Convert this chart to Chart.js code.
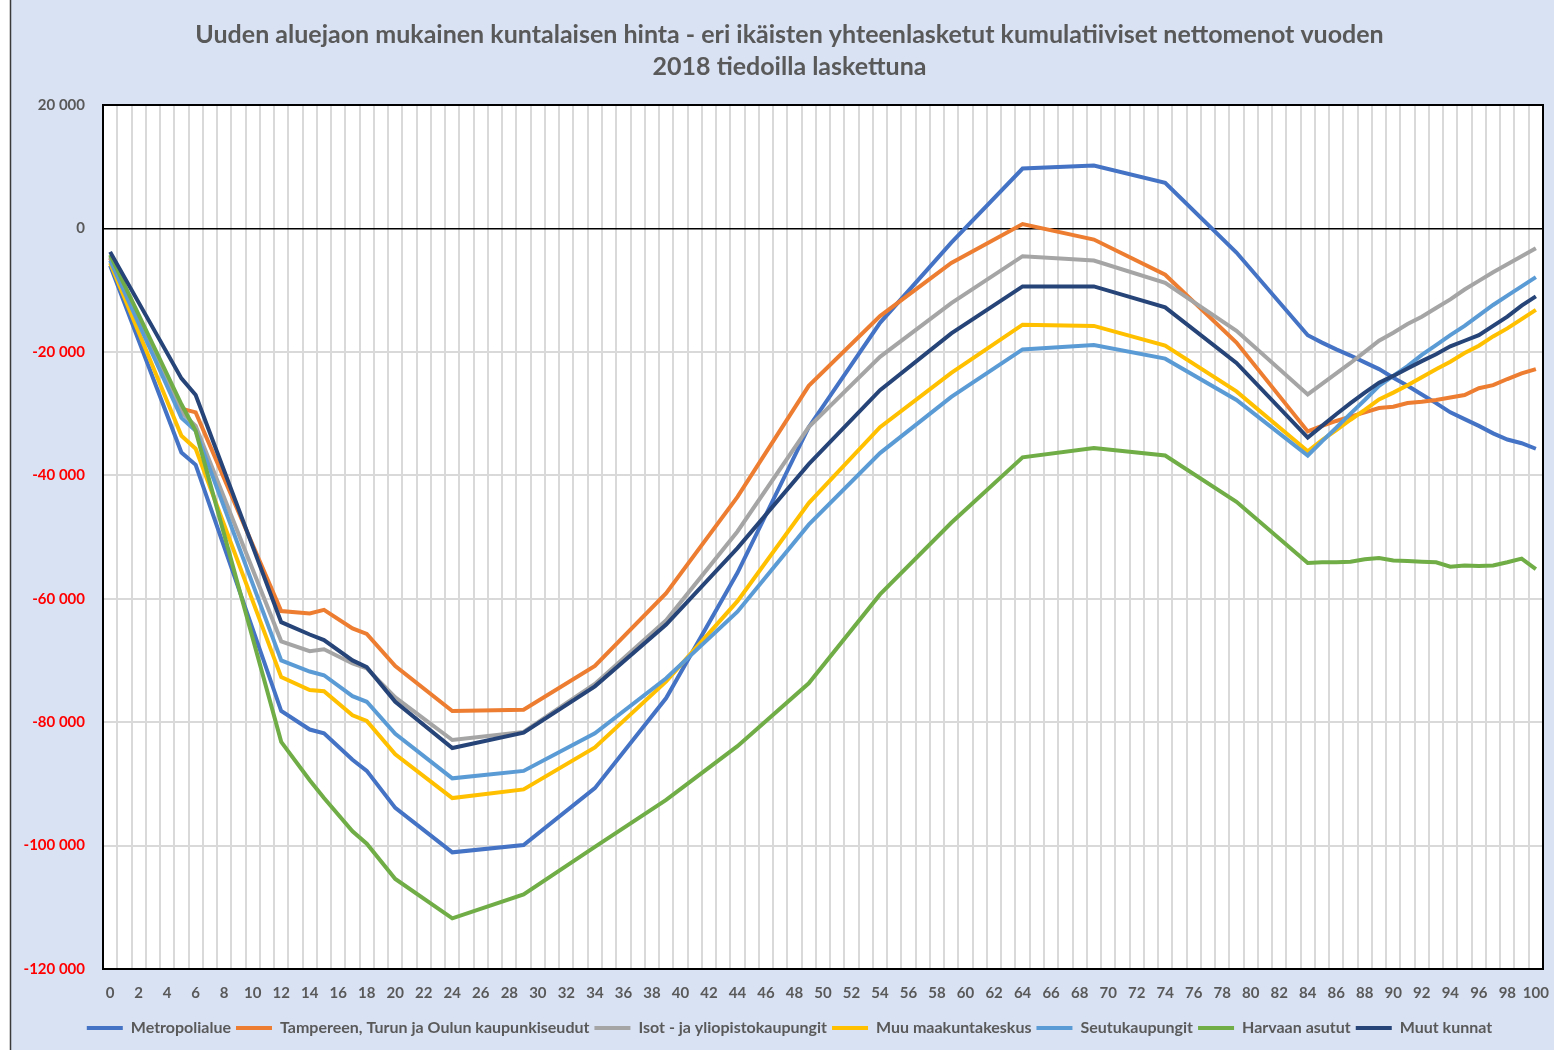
<!DOCTYPE html>
<html>
<head>
<meta charset="utf-8">
<script src="https://cdn.jsdelivr.net/npm/chart.js@4"></script>
<style>
  body { margin: 0; background: #fff; }
  #wrap { width: 1554px; height: 1050px; }
</style>
</head>
<body>
<div id="wrap"><canvas id="myChart"></canvas></div>
<script>
// ages on the x axis, 0..100
var ages = [];
for (var a = 0; a <= 100; a++) ages.push(a);

// ages where the lines have a point
var pointAges = [0, 5, 6, 12, 14, 15, 17, 18, 20, 24, 29, 34, 39, 44, 49, 54, 59, 64, 69, 74, 79,
  84, 85, 86, 87, 88, 89, 90, 91, 92, 93, 94, 95, 96, 97, 98, 99, 100];

var seriesNames = ["Metropolialue", "Tampereen, Turun ja Oulun kaupunkiseudut", "Isot - ja yliopistokaupungit",
  "Muu maakuntakeskus", "Seutukaupungit", "Harvaan asutut", "Muut kunnat"];

var metro = [-6000, -36300, -38300, -78200, -81200, -81800, -86100, -87900, -93900, -101100, -99900, -90700, -76100,
  -55800, -32200, -15300, -2300, 9700, 10200, 7400, -3900,
  -17300, -18500, -19600, -20600, -21700, -22800, -24200, -25500, -26900, -28300, -29800, -30900, -32000, -33200, -34200, -34800, -35700];
var tampere = [-4800, -29200, -29800, -62000, -62400, -61800, -64800, -65700, -70900, -78200, -78000, -70900, -59100,
  -43500, -25500, -14200, -5600, 700, -1800, -7500, -18500,
  -32900, -32000, -31200, -30500, -29800, -29100, -28900, -28300, -28100, -27800, -27400, -27000, -25900, -25400, -24400, -23500, -22800];
var isot = [-4600, -29800, -32000, -66900, -68500, -68200, -70500, -71300, -76000, -82900, -81600, -73800, -63500,
  -49100, -32200, -20800, -12100, -4500, -5200, -8800, -16600,
  -26900, -25200, -23500, -21800, -20000, -18200, -16900, -15500, -14300, -12900, -11500, -9900, -8500, -7100, -5800, -4500, -3200];
var maakunta = [-5600, -33600, -35700, -72700, -74800, -75000, -78900, -79800, -85200, -92300, -90900, -84100, -73400,
  -60400, -44500, -32200, -23400, -15600, -15800, -19000, -26400,
  -36100, -34300, -32700, -31000, -29400, -27700, -26600, -25400, -24100, -22800, -21600, -20200, -19000, -17500, -16200, -14700, -13200];
var seutu = [-5200, -30700, -32800, -70000, -71800, -72400, -75800, -76700, -81900, -89100, -87900, -81800, -72900,
  -62100, -48000, -36400, -27300, -19600, -18900, -21100, -27800,
  -36800, -34500, -32300, -30000, -27800, -25500, -23900, -22300, -20500, -18900, -17300, -15800, -14100, -12400, -10900, -9400, -7900];
var harvaan = [-4300, -28500, -32800, -83200, -89400, -92300, -97700, -99700, -105400, -111800, -107900, -100200, -92600,
  -83900, -73700, -59300, -47700, -37100, -35600, -36800, -44300,
  -54200, -54100, -54100, -54000, -53600, -53400, -53800, -53900, -54000, -54100, -54800, -54600, -54700, -54600, -54100, -53500, -55200];
var muut = [-3800, -24300, -27000, -63800, -65800, -66700, -70000, -71100, -76700, -84200, -81700, -74200, -64200,
  -51800, -38200, -26200, -17000, -9400, -9400, -12800, -21800,
  -33900, -32000, -30100, -28300, -26600, -25000, -23900, -22700, -21500, -20400, -19100, -18200, -17300, -15800, -14300, -12500, -11000];

var seriesValues = [metro, tampere, isot, maakunta, seutu, harvaan, muut];
var colors = ["#4472C4", "#ED7D31", "#A5A5A5", "#FFC000", "#5B9BD5", "#70AD47", "#264478"];

var yTicks = [20000, 0, -20000, -40000, -60000, -80000, -100000, -120000];

var FONT = 'Lato, "Open Sans", sans-serif';
var TEXT = '#595959';

function fmt(v) {
  var s = String(Math.abs(v)).replace(/\B(?=(\d{3})+(?!\d))/g, ' ');
  return (v < 0 ? '-' : '') + s;
}

var datasets = seriesNames.map(function (name, i) {
  return {
    label: name,
    data: pointAges.map(function (age, j) { return { x: age, y: seriesValues[i][j] }; }),
    borderColor: colors[i],
    backgroundColor: colors[i],
    borderWidth: 4,
    pointRadius: 0,
    tension: 0,
    order: seriesNames.length - i
  };
});

// background, white plot area and black frame
var framePlugin = {
  id: 'frame',
  afterLayout: function (chart) {
    // title and legend are centred a bit right of the canvas middle
    [chart.titleBlock, chart.legend].forEach(function (box) {
      if (box) { box.left += 26; box.width -= 26; }
    });
  },
  beforeDraw: function (chart) {
    var ctx = chart.ctx, ca = chart.chartArea;
    ctx.save();
    ctx.fillStyle = '#fff';
    ctx.fillRect(0, 0, chart.width, chart.height);
    ctx.fillStyle = '#D9E2F3';
    ctx.fillRect(10, 0, chart.width - 10, chart.height);
    ctx.strokeStyle = '#3a3a3a';
    ctx.lineWidth = 1.5;
    ctx.beginPath();
    ctx.moveTo(10.5, 0);
    ctx.lineTo(10.5, chart.height);
    ctx.stroke();
    ctx.fillStyle = '#fff';
    ctx.fillRect(ca.left, ca.top, ca.right - ca.left, ca.bottom - ca.top);
    ctx.restore();
  },
  afterDatasetsDraw: function (chart) {
    var ctx = chart.ctx, ca = chart.chartArea;
    ctx.save();
    ctx.strokeStyle = '#000';
    ctx.lineWidth = 2;
    ctx.strokeRect(ca.left, ca.top, ca.right - ca.left, ca.bottom - ca.top);
    ctx.restore();
  }
};

new Chart(document.getElementById('myChart'), {
  type: 'line',
  data: { labels: ages, datasets: datasets },
  plugins: [framePlugin],
  options: {
    responsive: true,
    maintainAspectRatio: false,
    animation: false,
    layout: { padding: { left: 10, right: 11, top: 0, bottom: 4 } },
    plugins: {
      title: {
        display: true,
        text: ["Uuden aluejaon mukainen kuntalaisen hinta - eri ikäisten yhteenlasketut kumulatiiviset nettomenot vuoden",
               "2018 tiedoilla laskettuna"],
        color: TEXT,
        font: { family: FONT, size: 25, weight: 'bold', lineHeight: 1.28 },
        padding: { top: 19, bottom: 22 }
      },
      legend: {
        position: 'bottom',
        labels: {
          color: TEXT,
          font: { family: FONT, size: 16, weight: 'bold' },
          boxWidth: 36,
          boxHeight: 4,
          padding: 5,
          sort: function (a, b) { return a.datasetIndex - b.datasetIndex; },
          generateLabels: function (chart) {
            return Chart.defaults.plugins.legend.labels.generateLabels(chart).map(function (it) {
              it.lineWidth = 0;
              return it;
            });
          }
        }
      },
      tooltip: { enabled: false }
    },
    scales: {
      x: {
        type: 'category',
        offset: true,
        grid: { offset: true, color: '#D9D9D9', lineWidth: 2, drawTicks: false },
        border: { display: false },
        ticks: {
          autoSkip: false,
          maxRotation: 0,
          padding: 15,
          color: TEXT,
          font: { family: FONT, size: 15, weight: 'bold' },
          callback: function (val, i) { return i % 2 === 0 ? String(ages[i]) : ''; }
        },
        afterFit: function (scale) {
          scale.height = 46;
          scale.paddingLeft = 0;
          scale.paddingRight = 0;
        }
      },
      y: {
        min: -120000,
        max: 20000,
        afterBuildTicks: function (scale) {
          scale.ticks = yTicks.slice().reverse().map(function (v) { return { value: v }; });
        },
        grid: {
          color: function (c) { return c.tick && c.tick.value === 0 ? '#000' : '#D9D9D9'; },
          lineWidth: function (c) { return c.tick && c.tick.value === 0 ? 1.5 : 2; },
          drawTicks: false
        },
        border: { display: false },
        ticks: {
          padding: 18,
          color: function (c) { return c.tick.value < 0 ? '#FF0000' : TEXT; },
          font: { family: FONT, size: 15, weight: 'bold' },
          callback: function (v) { return fmt(v); }
        },
        afterFit: function (scale) { scale.width = 93; }
      }
    }
  }
});
</script>
</body>
</html>
